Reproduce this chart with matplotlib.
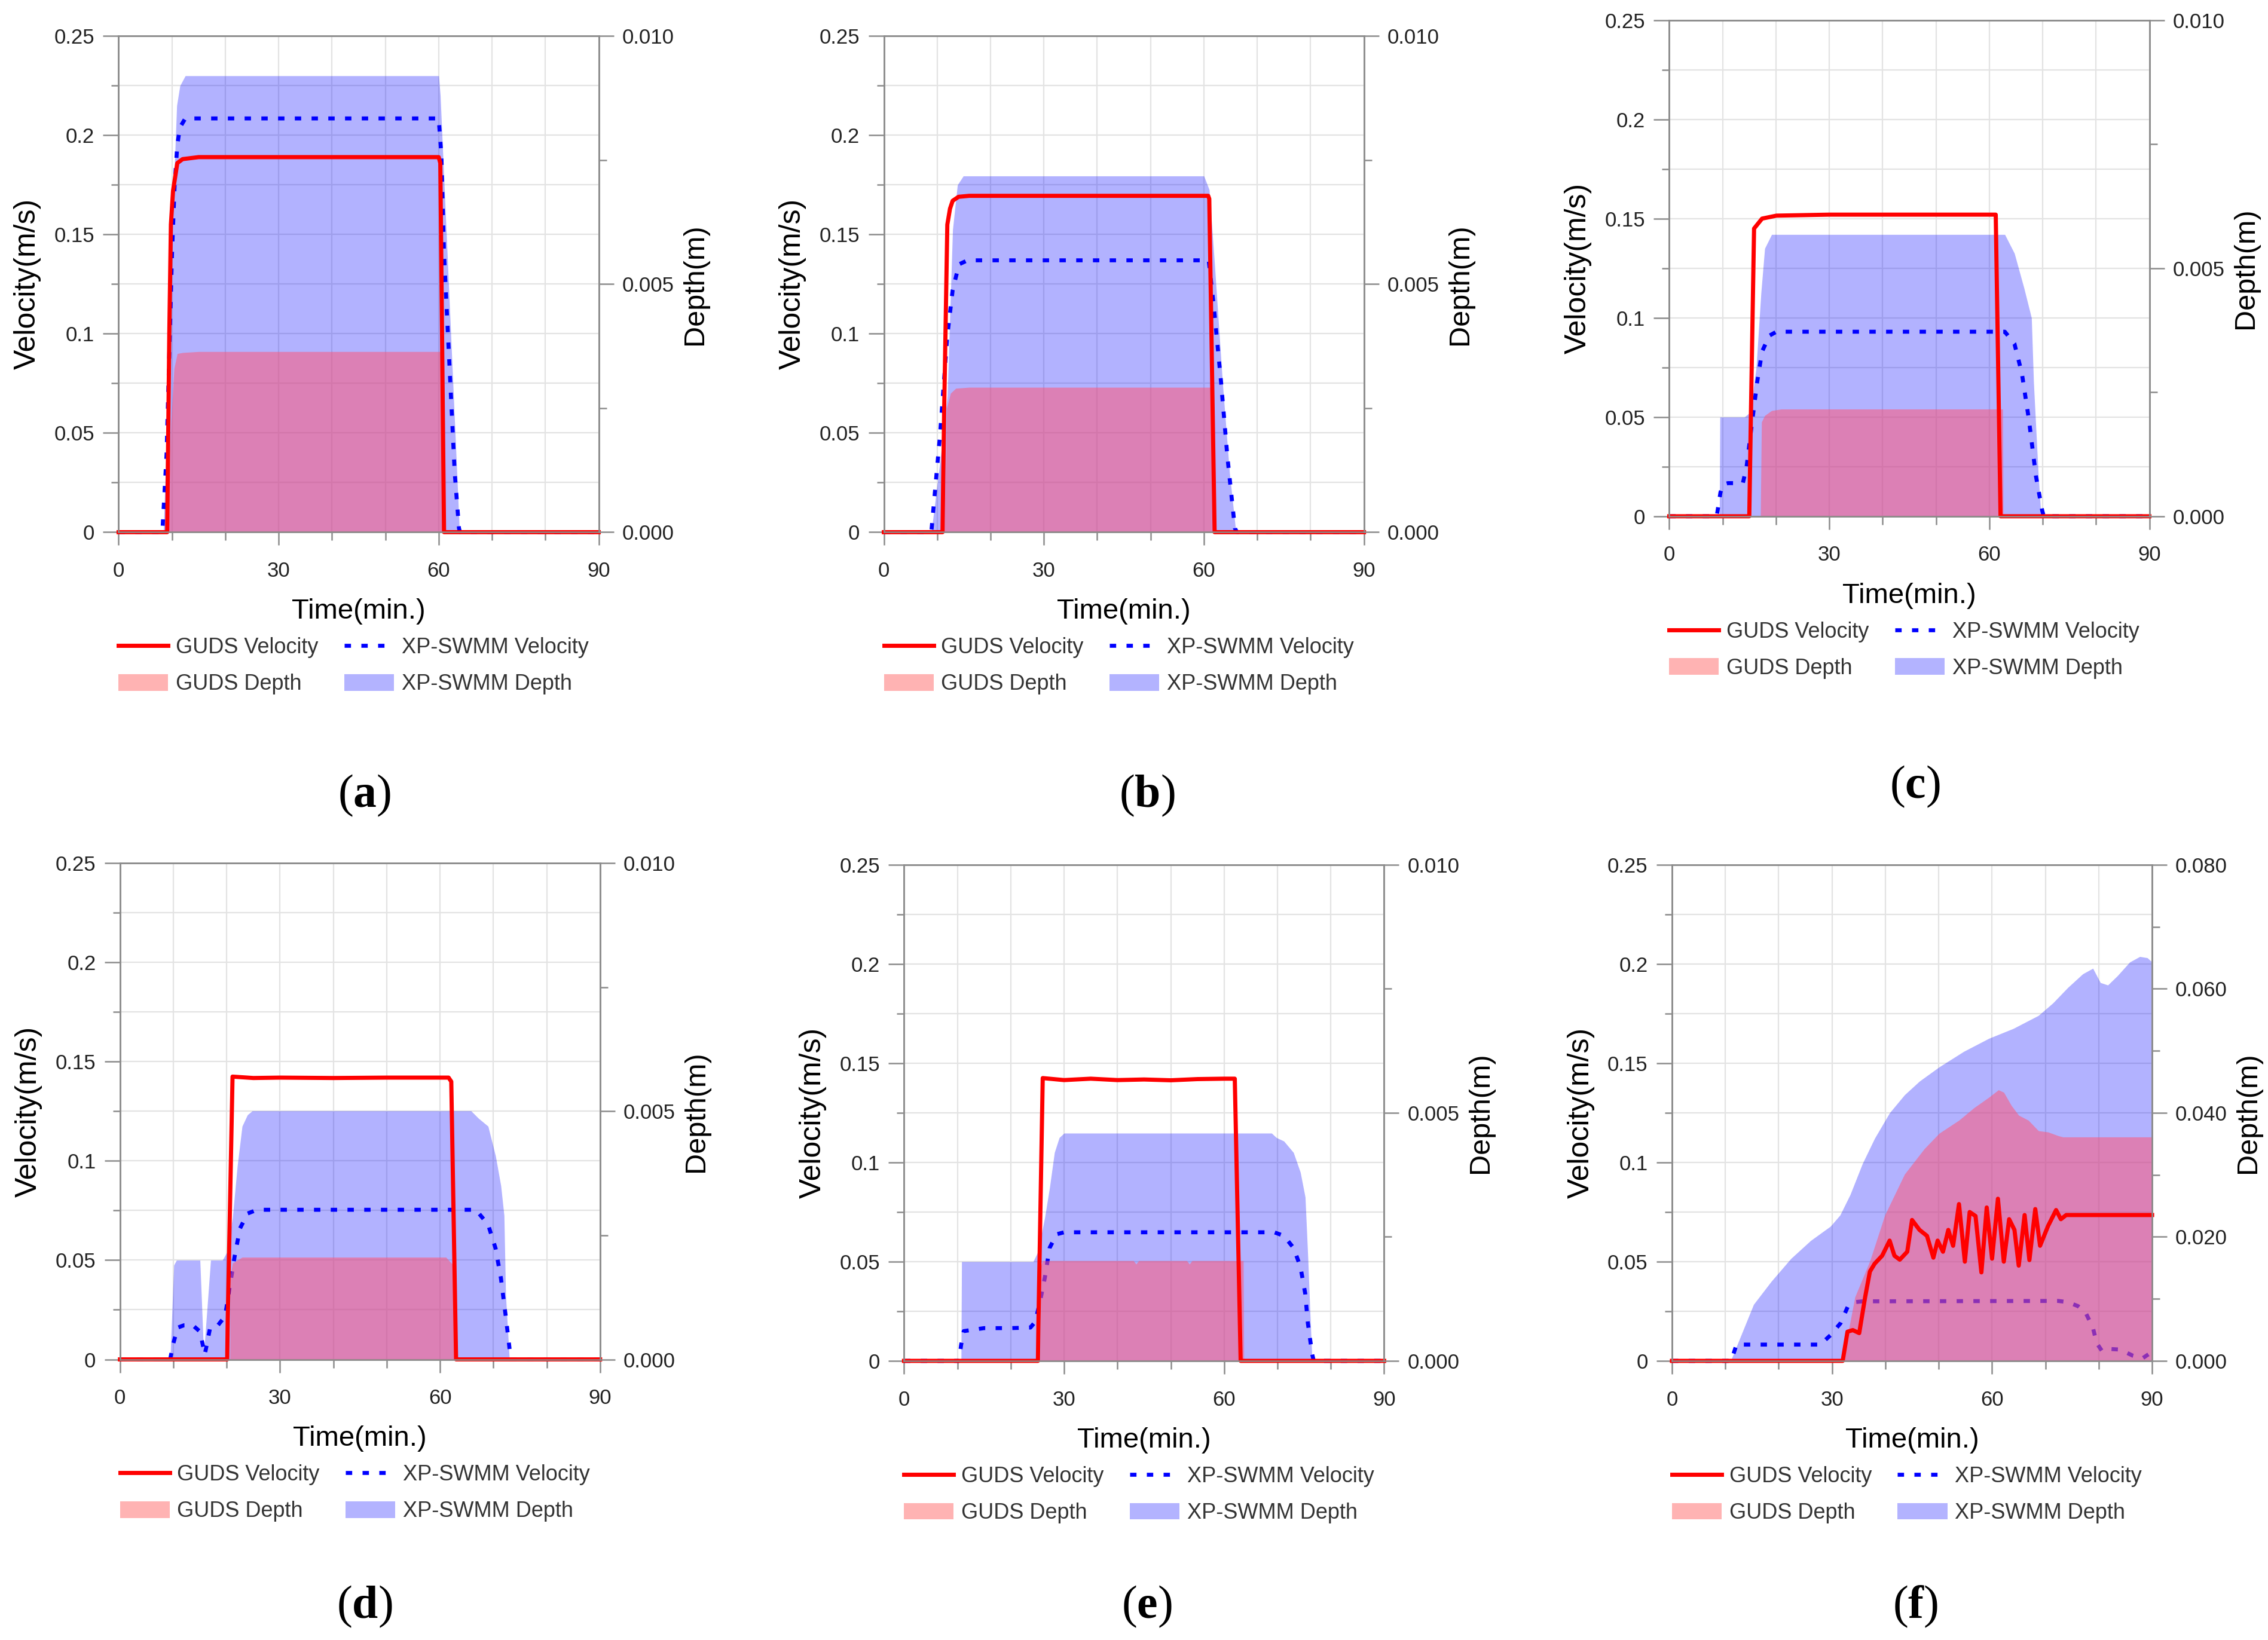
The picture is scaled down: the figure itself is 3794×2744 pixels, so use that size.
import matplotlib
matplotlib.use('Agg')
import matplotlib.pyplot as plt
import numpy as np
from matplotlib.lines import Line2D
from matplotlib.patches import Patch
from matplotlib.ticker import MultipleLocator, FuncFormatter, FormatStrFormatter

plt.rcParams['font.family'] = ['Liberation Sans', 'DejaVu Sans']
plt.rcParams['mathtext.fontset'] = 'custom'
plt.rcParams['mathtext.rm'] = 'Liberation Serif'
plt.rcParams['mathtext.bf'] = 'Liberation Serif:bold'

# ---- panel (a)
gv_a_t = [0, 9.1, 9.5, 9.8, 10.2, 11.0, 12.0, 15.0, 60.0, 60.3, 61.0, 90]
gv_a = [0, 0, 0.10, 0.155, 0.172, 0.186, 0.188, 0.189, 0.189, 0.186, 0, 0]
xv_a_t = [0, 8.2, 9.0, 10.0, 10.5, 11.0, 11.5, 12.5, 60.0, 60.5, 61.0, 62.0, 63.0, 63.8, 64.0, 90]
xv_a = [0, 0, 0.04, 0.14, 0.175, 0.195, 0.204, 0.2085, 0.2085, 0.19, 0.14, 0.085, 0.03, 0.002, 0, 0]
xd_a_t = [0, 8.4, 9.3, 10.2, 10.9, 11.5, 12.5, 60.0, 60.3, 63.9, 90]
xd_a = [0, 0, 0.003, 0.0066, 0.0086, 0.0090, 0.0092, 0.0092, 0.0088, 0, 0]
gd_a_t = [0, 9.2, 9.8, 10.4, 11.0, 12.0, 15.0, 60.7, 60.9, 90]
gd_a = [0, 0, 0.0022, 0.0033, 0.0036, 0.00362, 0.00364, 0.00364, 0, 0]

# ---- panel (b)
gv_b_t = [0, 11.0, 11.3, 11.9, 12.4, 12.9, 14.0, 16.0, 60.8, 61.0, 62.0, 90]
gv_b = [0, 0, 0.06, 0.155, 0.163, 0.167, 0.169, 0.1695, 0.1695, 0.168, 0, 0]
xv_b_t = [0, 8.9, 10.5, 11.9, 12.9, 14.1, 15.7, 60.9, 61.8, 63.2, 64.4, 65.8, 66.2, 90]
xv_b = [0, 0, 0.048, 0.099, 0.122, 0.135, 0.137, 0.137, 0.115, 0.076, 0.038, 0.002, 0, 0]
xd_b_t = [0, 8.9, 10.5, 11.9, 12.9, 13.8, 14.9, 60.0, 61.0, 62.0, 63.5, 64.8, 66.0, 90]
xd_b = [0, 0, 0.0014, 0.00275, 0.0061, 0.0070, 0.00718, 0.00718, 0.0069, 0.0054, 0.003, 0.0012, 0, 0]
gd_b_t = [0, 11.3, 11.8, 12.5, 13.5, 16.0, 61.3, 61.5, 90]
gd_b = [0, 0, 0.0025, 0.0028, 0.0029, 0.00292, 0.00292, 0, 0]

# ---- panel (c)
gv_c_t = [0, 15.0, 15.3, 15.9, 17.4, 20.1, 30.0, 61.2, 62.1, 90]
gv_c = [0, 0, 0.05, 0.145, 0.150, 0.1515, 0.152, 0.152, 0, 0]
xv_c_t = [0, 8.9, 9.6, 10.1, 11.0, 13.8, 14.5, 15.6, 16.5, 17.4, 18.75, 20.1,
          62.9, 64.7, 66.1, 67.4, 68.75, 69.9, 70.2, 90]
xv_c = [0, 0, 0.012, 0.016, 0.0167, 0.0167, 0.025, 0.049, 0.068, 0.083, 0.091, 0.093,
        0.093, 0.087, 0.072, 0.049, 0.020, 0.003, 0, 0]
xd_c_t = [0, 9.4, 9.5, 14.1, 15.2, 16.3, 17.2, 17.9, 19.2, 62.9, 64.7, 66.5, 67.9, 68.3, 69.2, 69.7, 90]
xd_c = [0, 0, 0.0020, 0.0020, 0.0021, 0.0030, 0.0045, 0.0054, 0.00568, 0.00568,
        0.0053, 0.0046, 0.004, 0.0027, 0.0008, 0, 0]
gd_c_t = [0, 17.1, 17.3, 17.9, 19.2, 21.0, 62.5, 62.6, 90]
gd_c = [0, 0, 0.0019, 0.00203, 0.00213, 0.00216, 0.00216, 0, 0]

# ---- panel (d)
gv_d_t = [0, 20.1, 20.2, 21.1, 25.0, 30.0, 40.0, 50.0, 61.6, 62.1, 63.0, 90]
gv_d = [0, 0, 0.02, 0.1425, 0.1418, 0.1420, 0.1418, 0.1420, 0.1420, 0.140, 0, 0]
xv_d_t = [0, 9.4, 10.0, 10.8, 12.0, 13.6, 15.0, 15.9, 16.9, 18.3, 19.7, 20.6, 21.5, 22.5,
          23.9, 25.7, 66.7, 69.0, 70.4, 71.4, 72.3, 73.0, 73.2, 90]
xv_d = [0, 0, 0.008, 0.016, 0.0172, 0.0173, 0.014, 0.0025, 0.016, 0.017, 0.0217, 0.037,
        0.052, 0.066, 0.0735, 0.0754, 0.0754, 0.068, 0.056, 0.041, 0.022, 0.006, 0, 0]
xd_d_t = [0, 9.4, 10.1, 10.6, 15.0, 15.7, 17.0, 19.2, 20.1, 21.1, 22.0, 22.9, 23.9, 24.8,
          65.8, 67.2, 69.0, 70.4, 71.4, 72.0, 72.3, 73.0, 90]
xd_d = [0, 0, 0.0019, 0.0020, 0.0020, 0.0001, 0.0020, 0.0020, 0.00217, 0.00286, 0.0039,
        0.0047, 0.00493, 0.00501, 0.00501, 0.00486, 0.0047, 0.0041, 0.0035, 0.0029, 0.0013, 0, 0]
gd_d_t = [0, 20.6, 20.7, 21.1, 22.9, 61.1, 62.1, 62.6, 62.7, 90]
gd_d = [0, 0, 0.0017, 0.00194, 0.00206, 0.00206, 0.00194, 0.0019, 0, 0]

# ---- panel (e)
gv_e_t = [0, 25.1, 25.2, 26.0, 30, 35, 40, 45, 50, 55, 60, 62.0, 63.1, 90]
gv_e = [0, 0, 0.02, 0.1425, 0.1415, 0.1422, 0.1415, 0.1418, 0.1414, 0.1420, 0.1422, 0.1422, 0, 0]
xv_e_t = [0, 10.3, 10.7, 11.2, 15.0, 20.0, 23.7, 24.6, 25.5, 26.4, 27.3, 28.6, 30.0,
          69.4, 71.2, 73.0, 74.3, 75.2, 75.7, 76.5, 76.8, 90]
xv_e = [0, 0, 0.008, 0.015, 0.0165, 0.0165, 0.0168, 0.0197, 0.030, 0.042, 0.057, 0.0638,
        0.0648, 0.0648, 0.063, 0.057, 0.0475, 0.034, 0.019, 0.0035, 0, 0]
xd_e_t = [0, 10.7, 10.8, 24.2, 25.1, 26.4, 27.3, 28.2, 29.1, 30.0, 68.9, 69.8, 71.2, 73.0,
          74.3, 75.2, 75.7, 76.1, 76.5, 90]
xd_e = [0, 0, 0.0020, 0.0020, 0.0022, 0.0029, 0.0035, 0.0042, 0.0045, 0.00459, 0.00459,
        0.0045, 0.00443, 0.0042, 0.0038, 0.0033, 0.0021, 0.001, 0, 0]
gd_e_t = [0, 25.5, 25.6, 26.0, 35.0, 43.0, 43.5, 44.0, 53.0, 53.5, 54.0, 62.2, 63.6, 63.7, 90]
gd_e = [0, 0, 0.0019, 0.00202, 0.00202, 0.00202, 0.00195, 0.00202, 0.00202, 0.00195,
        0.00202, 0.00202, 0.00202, 0, 0]

# ---- panel (f)
gv_f_t = [0, 32.0, 32.9, 33.9, 35.1, 36.2, 37.1, 38.0, 39.4, 40.8, 41.7, 42.7, 44.1, 45.0,
          46.4, 47.8, 49.0, 49.8, 50.8, 51.8, 52.7, 53.8, 54.9, 55.8, 56.9, 58.0, 59.0,
          60.0, 61.1, 62.2, 63.2, 64.2, 65.0, 66.1, 67.0, 68.1, 69.0, 70.5, 72.0, 72.9, 73.9, 90]
gv_f = [0, 0, 0.0147, 0.0155, 0.014, 0.032, 0.045, 0.049, 0.053, 0.0606, 0.053, 0.051,
        0.055, 0.071, 0.066, 0.063, 0.052, 0.0606, 0.055, 0.066, 0.058, 0.079, 0.050, 0.075,
        0.073, 0.0446, 0.0773, 0.0515, 0.0817, 0.050, 0.0714, 0.066, 0.048, 0.0735, 0.0508,
        0.0765, 0.058, 0.068, 0.076, 0.0714, 0.0735, 0.0735]
xv_f_t = [0, 11.1, 12.1, 20.0, 27.8, 29.7, 31.6, 33.0, 34.3, 35.7, 72.4, 74.2, 76.1, 77.5,
          78.9, 79.6, 80.6, 82.1, 84.0, 86.4, 88.2, 89.7]
xv_f = [0, 0, 0.0082, 0.0082, 0.0082, 0.0129, 0.019, 0.0276, 0.0296, 0.030, 0.0302,
        0.0296, 0.0276, 0.0245, 0.0168, 0.009, 0.005, 0.006, 0.0057, 0.0026, 0.0013, 0.004]
xd_f_t = [0, 11.0, 15.3, 18.6, 22.3, 26.0, 29.7, 31.5, 33.4, 35.7, 38.0, 40.8, 43.6, 46.4,
          50.1, 54.7, 59.4, 64.0, 68.7, 71.4, 74.2, 77.0, 78.9, 80.3, 81.7, 83.5, 85.8,
          87.7, 89.1, 90]
xd_f = [0, 0, 0.0091, 0.0128, 0.0165, 0.0194, 0.0217, 0.0235, 0.0268, 0.0318, 0.0359,
        0.040, 0.0429, 0.0451, 0.0474, 0.0499, 0.052, 0.0536, 0.0557, 0.0577, 0.0602,
        0.0624, 0.0633, 0.061, 0.0606, 0.0621, 0.0643, 0.0652, 0.065, 0.0643]
gd_f_t = [0, 32.0, 34.3, 37.1, 39.9, 43.6, 47.3, 50.1, 53.8, 56.6, 59.4, 61.2, 62.2, 63.6,
          65.0, 66.8, 68.7, 70.5, 72.4, 73.3, 90]
gd_f = [0, 0, 0.0103, 0.0161, 0.0235, 0.0301, 0.0342, 0.0367, 0.0388, 0.0408, 0.0425,
        0.0437, 0.0433, 0.0412, 0.0396, 0.0388, 0.0371, 0.0369, 0.0363, 0.0361, 0.0361]

depth_max = [0.010, 0.010, 0.010, 0.010, 0.010, 0.080]
depth_step = [0.005, 0.005, 0.005, 0.005, 0.005, 0.020]
tags = ['a', 'b', 'c', 'd', 'e', 'f']

# axes rectangles (figure fraction) and caption positions
rects = [(0.0523, 0.6755, 0.2117, 0.3025), (0.3897, 0.6755, 0.2117, 0.3025),
         (0.7360, 0.6852, 0.2117, 0.3025), (0.0529, 0.1711, 0.2117, 0.3025),
         (0.3986, 0.1702, 0.2117, 0.3025), (0.7372, 0.1702, 0.2117, 0.3025)]
caption_xy = [(0.1607, 0.5150), (0.5057, 0.5150), (0.8444, 0.5203),
              (0.1607, 0.0203), (0.5057, 0.0203), (0.8444, 0.0203)]

panels = [(gv_a_t, gv_a, xv_a_t, xv_a, xd_a_t, xd_a, gd_a_t, gd_a),
          (gv_b_t, gv_b, xv_b_t, xv_b, xd_b_t, xd_b, gd_b_t, gd_b),
          (gv_c_t, gv_c, xv_c_t, xv_c, xd_c_t, xd_c, gd_c_t, gd_c),
          (gv_d_t, gv_d, xv_d_t, xv_d, xd_d_t, xd_d, gd_d_t, gd_d),
          (gv_e_t, gv_e, xv_e_t, xv_e, xd_e_t, xd_e, gd_e_t, gd_e),
          (gv_f_t, gv_f, xv_f_t, xv_f, xd_f_t, xd_f, gd_f_t, gd_f)]

RED = '#ff0000'
BLUE = '#0000ff'
PINK = (1.0, 0.34, 0.47)
SPINE = '#8c8c8c'
DOTS = (0, (1.6, 2.6))

fig = plt.figure(figsize=(18.97, 13.72), dpi=200)


def vel_fmt(v, pos):
    return '%g' % round(v, 3)


for i, (gvt, gv, xvt, xv, xdt, xd, gdt, gd) in enumerate(panels):
    ax = fig.add_axes(rects[i])
    axd = ax.twinx()
    ax.set_xlim(0, 90)
    ax.set_ylim(0, 0.25)
    axd.set_ylim(0, depth_max[i])

    # fills live on ax (for layering) but use the depth axis scale
    ax.fill_between(xdt, xd, 0, color=BLUE, alpha=0.3, lw=0, transform=axd.transData, zorder=1)
    ax.plot(xvt, xv, color=BLUE, lw=2.4, linestyle=DOTS, zorder=2, clip_on=False)
    ax.fill_between(gdt, gd, 0, color=PINK, alpha=0.55, lw=0, transform=axd.transData, zorder=3)
    ax.plot(gvt, gv, color=RED, lw=2.5, zorder=4, clip_on=False)

    ax.set_xlim(0, 90)
    ax.set_ylim(0, 0.25)

    ax.xaxis.set_major_locator(MultipleLocator(30))
    ax.xaxis.set_minor_locator(MultipleLocator(10))
    ax.yaxis.set_major_locator(MultipleLocator(0.05))
    ax.yaxis.set_minor_locator(MultipleLocator(0.025))
    ax.yaxis.set_major_formatter(FuncFormatter(vel_fmt))
    axd.yaxis.set_major_locator(MultipleLocator(depth_step[i]))
    axd.yaxis.set_minor_locator(MultipleLocator(depth_step[i] / 2))
    axd.yaxis.set_major_formatter(FormatStrFormatter('%.3f'))

    ax.grid(which='both', color='#e3e3e3', lw=0.8)
    ax.set_axisbelow(True)

    for a in (ax, axd):
        for s in a.spines.values():
            s.set_color(SPINE)
            s.set_linewidth(0.9)
    ax.tick_params(axis='x', which='major', length=8, width=0.9, color=SPINE,
                   labelsize=12.5, pad=9.5, labelcolor='#222222')
    ax.tick_params(axis='x', which='minor', length=5, width=0.9, color=SPINE)
    ax.tick_params(axis='y', which='major', length=9.5, width=0.9, color=SPINE,
                   labelsize=12.5, pad=5, labelcolor='#222222')
    ax.tick_params(axis='y', which='minor', length=4.5, width=0.9, color=SPINE)
    axd.tick_params(axis='y', which='major', length=9, width=0.9, color=SPINE,
                    labelsize=12.5, pad=5, labelcolor='#222222')
    axd.tick_params(axis='y', which='minor', length=4.5, width=0.9, color=SPINE)

    ax.text(-0.19, 0.5, 'Velocity(m/s)', transform=ax.transAxes, rotation=90,
            ha='center', va='center', fontsize=18)
    ax.text(1.20, 0.5, 'Depth(m)', transform=ax.transAxes, rotation=90,
            ha='center', va='center', fontsize=17.5)
    ax.text(0.5, -0.16, 'Time(min.)', transform=ax.transAxes,
            ha='center', va='center', fontsize=17)

    handles = [Line2D([], [], color=RED, lw=2.5),
               Patch(facecolor='#ffb3b3', edgecolor='none'),
               Line2D([], [], color=BLUE, lw=2.4, linestyle=DOTS),
               Patch(facecolor='#b3b3ff', edgecolor='none')]
    labels = ['GUDS Velocity', 'GUDS Depth', 'XP-SWMM Velocity', 'XP-SWMM Depth']
    ax.legend(handles, labels, ncol=2, loc='upper left', bbox_to_anchor=(0.0, -0.212),
              frameon=False, fontsize=13, borderaxespad=0, borderpad=0,
              handlelength=2.3, handleheight=0.8, handletextpad=0.35,
              columnspacing=1.2, labelspacing=0.72, labelcolor='#333333')

    fig.text(caption_xy[i][0], caption_xy[i][1], r'($\mathbf{%s}$)' % tags[i],
             ha='center', va='center', fontsize=28, family='Liberation Serif')

fig.savefig('out.png', dpi=200)
